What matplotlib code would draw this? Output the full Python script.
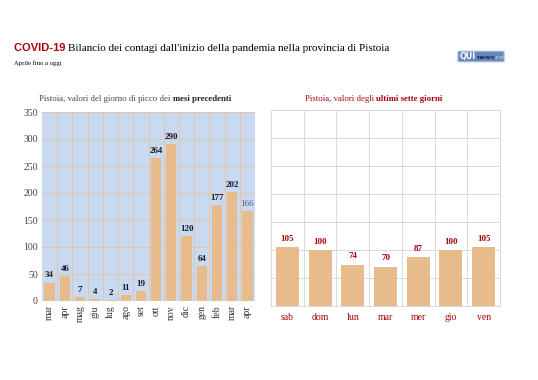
import numpy as np
import matplotlib.pyplot as plt
from matplotlib.patches import FancyBboxPatch

# peak day value of each previous month
mesi = ['mar', 'apr', 'mag', 'giu', 'lug', 'ago', 'set', 'ott', 'nov', 'dic', 'gen', 'feb', 'mar', 'apr']
picchi = [34, 46, 7, 4, 2, 11, 19, 264, 290, 120, 64, 177, 202, 166]

# last seven days
giorni = ['sab', 'dom', 'lun', 'mar', 'mer', 'gio', 'ven']
ultimi = [105, 100, 74, 70, 87, 100, 105]

y_ticks = [0, 50, 100, 150, 200, 250, 300, 350]

BAR = '#e8bb8d'
DARKRED = '#a8000f'
SERIF = 'Liberation Serif'

W, H = 538, 380
fig = plt.figure(figsize=(W / 100, H / 100), dpi=100)
fig.patch.set_facecolor('white')
renderer = fig.canvas.get_renderer()

def px(x0, y0, x1, y1):
    # pixel box -> figure fraction
    return [x0 / W, 1 - y1 / H, (x1 - x0) / W, (y1 - y0) / H]

def pieces(x, y, parts, ha='left'):
    # write text pieces one after another on the same baseline (x, y in pixels)
    texts = [fig.text(0, 1 - y / H, s, va='baseline', **kw) for s, kw in parts]
    widths = [t.get_window_extent(renderer).width for t in texts]
    if ha == 'center':
        x = x - sum(widths) / 2
    for t, w in zip(texts, widths):
        t.set_x(x / W)
        x += w

# title
pieces(14, 51, [('COVID-19 ', dict(color=DARKRED, fontsize=8, fontweight='bold', family='Liberation Sans')),
                ("Bilancio dei contagi dall'inizio della pandemia nella provincia di Pistoia",
                 dict(fontsize=8, family=SERIF, color='black'))])
fig.text(14 / W, 1 - 65 / H, 'Aprile fino a oggi', fontsize=4.8, family=SERIF, va='baseline')

# logo
logo = FancyBboxPatch((459 / W, 1 - 61 / H), 44 / W, 9 / H, boxstyle='round,pad=0.002',
                      transform=fig.transFigure, facecolor='#6587bb', edgecolor='#a9bedd', lw=0.8)
fig.patches.append(logo)
pieces(460, 59, [('QUI', dict(color='white', fontsize=5.8, fontweight='bold', family='DejaVu Sans')),
                 ('news', dict(color='#1d2e55', fontsize=4.6, fontweight='bold', family='DejaVu Sans Condensed')),
                 ('.net', dict(color='#c8d6ec', fontsize=4.2, family='DejaVu Sans Condensed'))])

# left chart
ax1 = fig.add_axes(px(42, 112, 255, 301))
x1 = np.arange(len(mesi))
ax1.set_facecolor('#c9d9f1')
ax1.bar(x1, picchi, width=0.68, color=BAR, zorder=3)
ax1.set_xlim(-0.5, len(mesi) - 0.5)
ax1.set_ylim(0, 350)
ax1.set_yticks(y_ticks)
ax1.set_yticklabels([str(v) for v in y_ticks], family=SERIF, fontsize=7, color='#444444')
ax1.set_xticks(x1)
ax1.set_xticklabels(mesi, rotation=90, family=SERIF, fontsize=7, color='#333333')
ax1.set_xticks(x1[:-1] + 0.5, minor=True)
ax1.grid(axis='y', color='#e4c6a0', lw=0.7, zorder=1)
ax1.grid(axis='x', which='minor', color='#e4c6a0', lw=0.7, zorder=1)
ax1.tick_params(axis='both', which='both', length=0, pad=3)
for s in ax1.spines.values():
    s.set_visible(False)
for i, v in enumerate(picchi):
    last = i == len(picchi) - 1
    ax1.text(i, v + 6, str(v), ha='center', va='bottom', family=SERIF, fontsize=6.5,
             fontweight='normal' if last else 'bold', color='#555566' if last else '#1a1a2a')
pieces(135, 101, [('Pistoia, valori del giorno di picco dei ', dict(family=SERIF, fontsize=6.3, color='#444444')),
                  ('mesi precedenti', dict(family=SERIF, fontsize=6.3, color='#222222', fontweight='bold'))],
       ha='center')

# right chart
ax2 = fig.add_axes(px(271, 110, 500, 306))
x2 = np.arange(len(giorni))
ax2.bar(x2, ultimi, width=0.7, color=BAR, zorder=3)
ax2.set_xlim(-0.5, len(giorni) - 0.5)
ax2.set_ylim(0, 350)
ax2.set_yticks(y_ticks)
ax2.set_yticklabels([])
ax2.set_xticks(x2)
ax2.set_xticklabels(giorni, family=SERIF, fontsize=7, color=DARKRED)
ax2.set_xticks(x2[:-1] + 0.5, minor=True)
ax2.grid(axis='y', color='#d9d9d9', lw=0.7, zorder=1)
ax2.grid(axis='x', which='minor', color='#d9d9d9', lw=0.7, zorder=1)
ax2.tick_params(axis='both', which='both', length=0, pad=5)
for s in ax2.spines.values():
    s.set_color('#d9d9d9')
    s.set_linewidth(0.7)
for i, v in enumerate(ultimi):
    ax2.text(i, v + 8, str(v), ha='center', va='bottom', family=SERIF, fontsize=6.5,
             fontweight='bold', color=DARKRED)
pieces(374, 101, [('Pistoia, valori degli ', dict(family=SERIF, fontsize=6.3, color=DARKRED)),
                  ('ultimi sette giorni', dict(family=SERIF, fontsize=6.3, color=DARKRED, fontweight='bold'))],
       ha='center')

fig.savefig('out.png', dpi=100)
